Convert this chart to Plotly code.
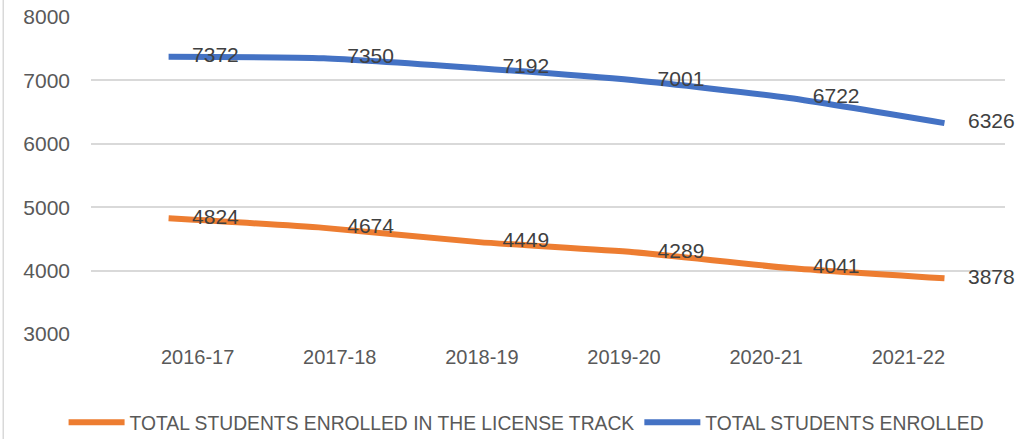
import plotly.graph_objects as go

# data
years = ['2016-17', '2017-18', '2018-19', '2019-20', '2020-21', '2021-22']
license_track = [4824, 4674, 4449, 4289, 4041, 3878]
total_enrolled = [7372, 7350, 7192, 7001, 6722, 6326]

ORANGE = '#ED7D31'
BLUE = '#4472C4'
FONT = 'Liberation Sans, Arial, sans-serif'

fig = go.Figure()

fig.add_trace(go.Scatter(
    x=years, y=license_track,
    name='TOTAL STUDENTS ENROLLED IN THE LICENSE TRACK',
    mode='lines+markers+text',
    line=dict(color=ORANGE, width=6, shape='spline', smoothing=0.6),
    marker=dict(size=36, color='rgba(0,0,0,0)'),
    text=[str(v) for v in license_track],
    textposition='middle right',
    textfont=dict(family=FONT, size=21, color='#404040'),
    cliponaxis=False,
    hoverinfo='x+y'
))

fig.add_trace(go.Scatter(
    x=years, y=total_enrolled,
    name='TOTAL STUDENTS ENROLLED',
    mode='lines+markers+text',
    line=dict(color=BLUE, width=6, shape='spline', smoothing=0.6),
    marker=dict(size=36, color='rgba(0,0,0,0)'),
    text=[str(v) for v in total_enrolled],
    textposition='middle right',
    textfont=dict(family=FONT, size=21, color='#404040'),
    cliponaxis=False,
    hoverinfo='x+y'
))

# invisible trace that carries the category labels axis
fig.add_trace(go.Scatter(
    x=years, y=total_enrolled, xaxis='x2',
    mode='lines', line=dict(width=0), opacity=0,
    showlegend=False, hoverinfo='skip'
))

fig.update_layout(
    width=1035, height=439,
    margin=dict(l=91, r=30, t=17, b=105, autoexpand=False),
    paper_bgcolor='white', plot_bgcolor='white',
    font=dict(family=FONT, color='#595959'),
    xaxis=dict(
        type='category', range=[-0.5, 5.39],
        showticklabels=False, showgrid=False, zeroline=False, showline=False
    ),
    xaxis2=dict(
        type='category', overlaying='x', side='bottom', anchor='y',
        range=[-0.75, 5.68],
        showgrid=False, zeroline=False, showline=False,
        tickfont=dict(size=20, color='#595959'),
        ticklabelstandoff=9
    ),
    yaxis=dict(
        range=[3000, 8000], dtick=1000,
        showgrid=True, gridcolor='#D9D9D9', gridwidth=1.5,
        zeroline=False, showline=False,
        tickfont=dict(size=21, color='#595959'),
        ticklabelstandoff=20
    ),
    legend=dict(
        orientation='h', x=-0.03, xanchor='left', y=-0.28, yanchor='middle',
        font=dict(size=19.3, color='#595959'),
        itemwidth=56, tracegroupgap=0
    ),
    shapes=[dict(
        type='line', xref='paper', yref='paper',
        x0=-0.096, x1=-0.096, y0=-0.4, y1=1.1,
        line=dict(color='#D9D9D9', width=1.5)
    )]
)

# page body margin would shift the fixed-size figure by 8px
fig.write_html('out.html', config={'displayModeBar': False},
               post_script="document.body.style.margin='0px';")
